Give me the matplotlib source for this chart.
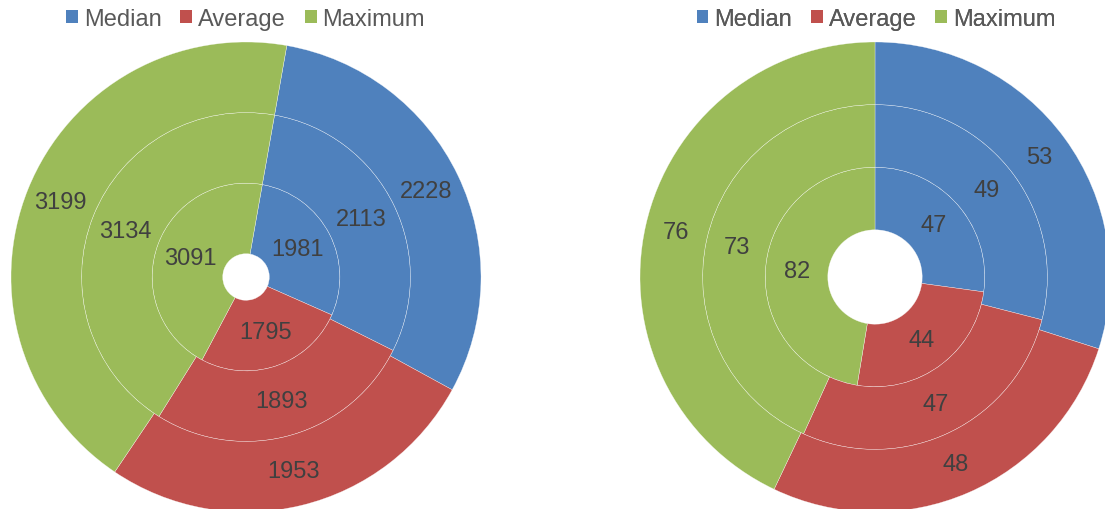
import numpy as np
import matplotlib
matplotlib.use("Agg")
import matplotlib.pyplot as plt
from matplotlib.patches import Patch

plt.rcParams['font.family'] = ['Liberation Sans', 'DejaVu Sans']

series = ["Median", "Average", "Maximum"]
colors = ["#4F81BD", "#C0504D", "#9BBB59"]

# rings listed from innermost to outermost
left_rings = [
    [1981, 1795, 3091],
    [2113, 1893, 3134],
    [2228, 1953, 3199],
]
right_rings = [
    [47, 44, 82],
    [49, 47, 73],
    [53, 48, 76],
]

W, H = 1105, 510
fig = plt.figure(figsize=(W / 100, H / 100), dpi=100)
ax = fig.add_axes([0, 0, 1, 1])


def doughnut(ax, rings, center, outer_r, hole_r, start_deg):
    width = (outer_r - hole_r) / len(rings)
    for i, vals in enumerate(rings):
        r = hole_r + width * (i + 1)
        wedges, _ = ax.pie(
            vals, radius=r, center=center, colors=colors,
            startangle=90 - start_deg, counterclock=False,
            wedgeprops=dict(width=width, edgecolor=(1, 1, 1, 0.7),
                            linewidth=0.3),
        )
        for w, v in zip(wedges, vals):
            mid = np.deg2rad((w.theta1 + w.theta2) / 2)
            rm = w.r - w.width / 2
            ax.text(center[0] + rm * np.cos(mid), center[1] + rm * np.sin(mid),
                    str(v), ha="center", va="center", fontsize=17,
                    color="#404040")


cy = H - 278
doughnut(ax, left_rings, (246, cy), 235, 23.3, 10)
doughnut(ax, right_rings, (875, cy), 235, 47.2, 0)

ax.set_xlim(0, W)
ax.set_ylim(0, H)
ax.set_aspect("equal")
ax.axis("off")

handles = [Patch(facecolor=c, edgecolor="none", label=s) for s, c in zip(series, colors)]
for x_c in (245.5, 876):
    leg = ax.legend(handles=handles, loc="upper center", ncol=3,
                    bbox_to_anchor=(x_c, H + 0.5), bbox_transform=ax.transData,
                    frameon=False, fontsize=17, handlelength=0.5,
                    handleheight=0.5, handletextpad=0.25, columnspacing=0.8,
                    borderaxespad=0, labelcolor="#595959")
    ax.add_artist(leg)

fig.savefig("out.png", dpi=100)
